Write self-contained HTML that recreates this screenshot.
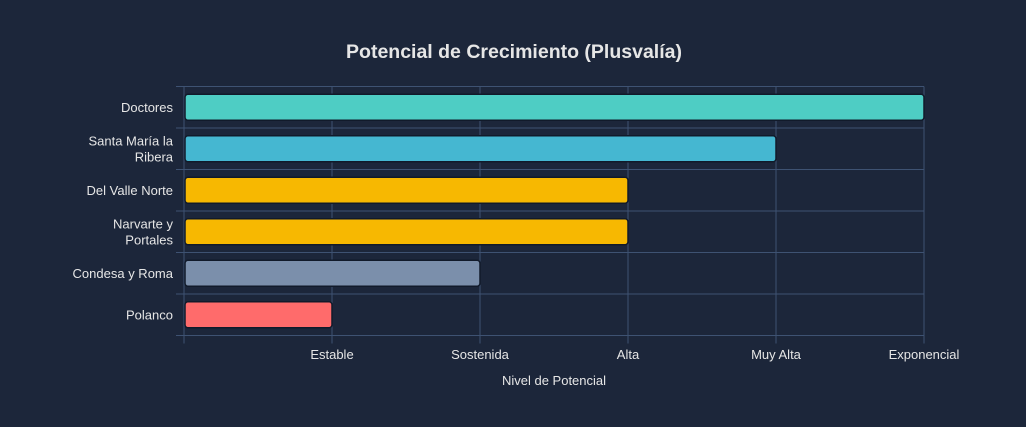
<!DOCTYPE html>
<html><head><meta charset="utf-8"><style>
html,body{margin:0;padding:0;background:#1c263a;}
svg{display:block;font-family:"Liberation Sans",Arial,sans-serif;}
</style></head><body>
<svg id="chart" width="1026" height="427">
<rect width="1026" height="427" fill="#1c263a"/>
<text x="514" y="58" text-anchor="middle" fill="#e6e6e6" font-size="19.5" font-weight="bold">Potencial de Crecimiento (Plusvalía)</text>
<g id="grid"></g><g id="bars"></g><g id="labels"></g>
<text x="554" y="385" text-anchor="middle" fill="#e6e6e6" font-size="13">Nivel de Potencial</text>
</svg>
<script>
const categories=[["Doctores"],["Santa María la","Ribera"],["Del Valle Norte"],["Narvarte y","Portales"],["Condesa y Roma"],["Polanco"]];
const values=[5,4,3,3,2,1];
const colors=["#4ecdc4","#45b7d1","#f7b801","#f7b801","#7b8fab","#ff6b6b"];
const tickVals=[1,2,3,4,5];
const tickLabels=["Estable","Sostenida","Alta","Muy Alta","Exponencial"];
const X0=184,X1=924,Y0=86.5,Y1=335.5,XMAX=5;
const GRID='#3e5272';
const x=v=>X0+(X1-X0)*v/XMAX;
const band=(Y1-Y0)/categories.length;
const y=i=>Y0+band*i;
const NS="http://www.w3.org/2000/svg";
function mk(t,a,p){const e=document.createElementNS(NS,t);for(const k in a)e.setAttribute(k,a[k]);p.appendChild(e);return e;}
const g=document.getElementById('grid'),b=document.getElementById('bars'),l=document.getElementById('labels');
for(let i=0;i<=categories.length;i++){const e=mk('line',{x1:176,x2:X1,y1:y(i),y2:y(i),stroke:GRID,'stroke-width':1},g);

}
tickVals.forEach((v,i)=>{const e=mk('line',{x1:x(v),x2:x(v),y1:Y0,y2:Y1+8,stroke:GRID,'stroke-width':1},g);


const t=mk('text',{x:x(v),y:359,'text-anchor':'middle',fill:'#e6e6e6','font-size':13},l);t.textContent=tickLabels[i];

});
const ax=mk('line',{x1:X0,x2:X0,y1:Y0,y2:Y1+8,stroke:GRID,'stroke-width':1},g);


categories.forEach((c,i)=>{const cy=y(i)+band/2;const h=26;
const r=mk('rect',{x:X0+1,y:cy-h/2,width:x(values[i])-X0-1,height:h,rx:3,fill:colors[i],stroke:'#111a2a','stroke-width':1.5},b);


const t=mk('text',{x:173,'text-anchor':'end',fill:'#e6e6e6','font-size':13},l);


const start=cy+4.5-(c.length-1)*8;
c.forEach((s,j)=>{const ts=mk('tspan',{x:173,y:start+j*16},t);ts.textContent=s;});});
</script>
</body></html>
